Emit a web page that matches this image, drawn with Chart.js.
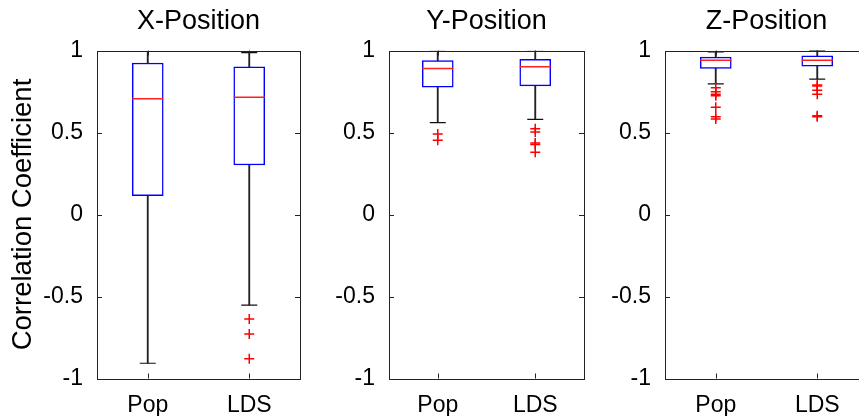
<!DOCTYPE html>
<html>
<head>
<meta charset="utf-8">
<script src="https://cdn.jsdelivr.net/npm/chart.js@4"></script>
<style>
  html, body { margin: 0; padding: 0; background: #fff; overflow: hidden; }
  body { width: 859px; height: 416px; position: relative; }
  .panel { position: absolute; top: 0; height: 416px; }
</style>
</head>
<body>
<div class="panel" id="p0" style="left:0px;width:310px"><canvas id="c0"></canvas></div>
<div class="panel" id="p1" style="left:310px;width:284px"><canvas id="c1"></canvas></div>
<div class="panel" id="p2" style="left:594px;width:284px"><canvas id="c2"></canvas></div>
<script>
// --- dados ---
const categories = ['Pop', 'LDS'];
const panelTitles = ['X-Position', 'Y-Position', 'Z-Position'];
const yAxisTitle = 'Correlation Coefficient';
const yTickValues = [-1, -0.5, 0, 0.5, 1];
const yTickLabels = ['-1', '-0.5', '0', '0.5', '1'];

// X-Position
const xLowWhisker = [-0.907, -0.552];
const xQ1 = [0.115, 0.302];
const xMedian = [0.706, 0.715];
const xQ3 = [0.924, 0.901];
const xHighWhisker = [0.994, 0.987];
const xOutliersPop = [];
const xOutliersLDS = [-0.637, -0.729, -0.879];

// Y-Position
const yLowWhisker = [0.560, 0.580];
const yQ1 = [0.776, 0.784];
const yMedian = [0.891, 0.901];
const yQ3 = [0.938, 0.946];
const yHighWhisker = [0.995, 0.995];
const yOutliersPop = [0.491, 0.452];
const yOutliersLDS = [0.523, 0.503, 0.436, 0.427, 0.379];

// Z-Position
const zLowWhisker = [0.796, 0.826];
const zQ1 = [0.891, 0.904];
const zMedian = [0.940, 0.940];
const zQ3 = [0.960, 0.968];
const zHighWhisker = [0.991, 0.999];
const zOutliersPop = [0.773, 0.749, 0.733, 0.724, 0.654, 0.596, 0.582];
const zOutliersLDS = [0.790, 0.783, 0.757, 0.733, 0.602, 0.596];

const FONT = '"Liberation Sans", Arial, Helvetica, sans-serif';

// moldura + ticks para dentro (estilo MATLAB)
const frameTicks = {
  id: 'frameTicks',
  afterDatasetsDraw(chart) {
    const { ctx, chartArea: a, scales } = chart;
    const L = 5;
    ctx.save();
    ctx.strokeStyle = '#222';
    ctx.lineWidth = 1;
    ctx.strokeRect(Math.round(a.left) + 0.5, Math.round(a.top) + 0.5,
      Math.round(a.right - a.left), Math.round(a.bottom - a.top));
    ctx.beginPath();
    yTickValues.forEach(v => {
      const y = Math.round(scales.y.getPixelForValue(v)) + 0.5;
      ctx.moveTo(a.left, y); ctx.lineTo(a.left + L, y);
      ctx.moveTo(a.right, y); ctx.lineTo(a.right - L, y);
    });
    categories.forEach((c, i) => {
      const x = Math.round(scales.x.getPixelForValue(i)) + 0.5;
      ctx.moveTo(x, a.bottom); ctx.lineTo(x, a.bottom - L);
      ctx.moveTo(x, a.top); ctx.lineTo(x, a.top + L);
    });
    ctx.stroke();
    ctx.restore();
  }
};

function makePanel(canvasId, idx, lo, q1, med, q3, hi, outPop, outLDS, yAxisWidth) {
  const outliers = outPop.map(v => ({ x: 'Pop', y: v }))
    .concat(outLDS.map(v => ({ x: 'LDS', y: v })));
  const caps = [];
  categories.forEach((c, i) => {
    caps.push({ x: c, y: lo[i] });
    caps.push({ x: c, y: hi[i] });
  });

  new Chart(document.getElementById(canvasId), {
    type: 'bar',
    data: {
      labels: categories,
      datasets: [
        {
          type: 'scatter', label: 'outliers', data: outliers,
          pointStyle: 'cross', radius: 5, borderColor: '#ff0000', borderWidth: 1.5
        },
        {
          type: 'scatter', label: 'median', data: med.map((v, i) => ({ x: categories[i], y: v })),
          pointStyle: 'line', radius: 15.5, borderColor: '#ff2020', borderWidth: 1.5
        },
        {
          type: 'scatter', label: 'caps', data: caps,
          pointStyle: 'line', radius: 8, borderColor: '#111', borderWidth: 1.2
        },
        {
          label: 'box', data: q1.map((v, i) => [v, q3[i]]),
          backgroundColor: '#ffffff', borderColor: '#0000ff', borderWidth: 1.5,
          borderSkipped: false, barThickness: 31, grouped: false
        },
        {
          label: 'upper whisker', data: q3.map((v, i) => [v, hi[i]]),
          backgroundColor: '#222', borderWidth: 0, barThickness: 1.2, grouped: false
        },
        {
          label: 'lower whisker', data: lo.map((v, i) => [v, q1[i]]),
          backgroundColor: '#222', borderWidth: 0, barThickness: 1.2, grouped: false
        }
      ]
    },
    options: {
      responsive: true,
      maintainAspectRatio: false,
      animation: false,
      events: [],
      layout: { autoPadding: false, padding: { left: 0, right: 10, top: 0, bottom: 0 } },
      plugins: {
        legend: { display: false },
        tooltip: { enabled: false },
        title: {
          display: true, text: panelTitles[idx], color: '#000', fullSize: false,
          font: { family: FONT, size: 27, weight: 'normal' },
          padding: { top: 5, bottom: 13.1 }
        }
      },
      scales: {
        x: {
          type: 'category',
          offset: true,
          grid: { display: false },
          border: { display: false },
          ticks: { color: '#000', padding: 5, font: { family: FONT, size: 23 } },
          afterFit(scale) { scale.height = 37.5; }
        },
        y: {
          min: -1, max: 1,
          grid: { display: false },
          border: { display: false },
          afterBuildTicks(scale) { scale.ticks = yTickValues.map(v => ({ value: v })); },
          ticks: {
            color: '#000', padding: 6, font: { family: FONT, size: 23 },
            callback: (value) => yTickLabels[yTickValues.indexOf(value)]
          },
          title: {
            display: idx === 0, text: yAxisTitle, color: '#000',
            font: { family: FONT, size: 27.5 }, padding: { top: 7, bottom: 0 }
          },
          afterFit(scale) { scale.width = yAxisWidth; }
        }
      }
    },
    plugins: [frameTicks]
  });
}

makePanel('c0', 0, xLowWhisker, xQ1, xMedian, xQ3, xHighWhisker, xOutliersPop, xOutliersLDS, 97);
makePanel('c1', 1, yLowWhisker, yQ1, yMedian, yQ3, yHighWhisker, yOutliersPop, yOutliersLDS, 79);
makePanel('c2', 2, zLowWhisker, zQ1, zMedian, zQ3, zHighWhisker, zOutliersPop, zOutliersLDS, 71);
</script>
</body>
</html>
